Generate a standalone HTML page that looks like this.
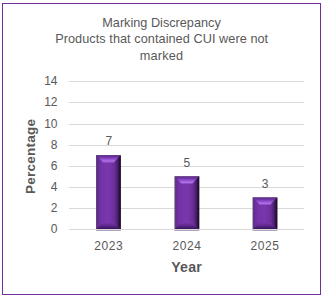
<!DOCTYPE html>
<html><head><meta charset="utf-8"><style>
html,body{margin:0;padding:0;background:#fff;width:323px;height:296px;overflow:hidden}
svg{display:block}
.t12{font-family:"Liberation Sans",sans-serif;font-size:12px;fill:#595959}
.xl{letter-spacing:0.6px}
.tt{font-family:"Liberation Sans",sans-serif;font-size:12.7px;fill:#595959}
.tb{font-family:"Liberation Sans",sans-serif;font-size:14.2px;font-weight:bold;fill:#595959}
</style></head><body>
<svg width="323" height="296" viewBox="0 0 323 296">
<defs>
<linearGradient id="body" x1="0" y1="0" x2="1" y2="0"><stop offset="0.0" stop-color="#5e4874"/><stop offset="0.03" stop-color="#5e4476"/><stop offset="0.06" stop-color="#5e2a8e"/><stop offset="0.1" stop-color="#6a2e9c"/><stop offset="0.22" stop-color="#7434a8"/><stop offset="0.5" stop-color="#7838ac"/><stop offset="0.6" stop-color="#7434a6"/><stop offset="0.74" stop-color="#6a2e98"/><stop offset="0.86" stop-color="#4c2070"/><stop offset="0.94" stop-color="#2a1040"/><stop offset="1.0" stop-color="#180820"/></linearGradient>
<linearGradient id="topbev" x1="0" y1="0" x2="0" y2="1"><stop offset="0" stop-color="#6a2ca0"/><stop offset="0.3" stop-color="#7232aa"/><stop offset="0.7" stop-color="#9c5cd8"/><stop offset="1" stop-color="#b474ee"/></linearGradient>
<linearGradient id="botbev" x1="0" y1="0" x2="0" y2="1"><stop offset="0" stop-color="#7838aa"/><stop offset="0.45" stop-color="#62288f"/><stop offset="1" stop-color="#361459"/></linearGradient>
<linearGradient id="glow" x1="0" y1="0" x2="0" y2="1"><stop offset="0" stop-color="#a868e2" stop-opacity="0.8"/><stop offset="1" stop-color="#a868e2" stop-opacity="0"/></linearGradient>
</defs>
<rect x="2.5" y="3.5" width="318" height="291" fill="none" stroke="#7030A0" stroke-width="1"/>
<rect x="69" y="229" width="235" height="1" fill="#d9d9d9"/>
<rect x="69" y="208" width="235" height="1" fill="#d9d9d9"/>
<rect x="69" y="187" width="235" height="1" fill="#d9d9d9"/>
<rect x="69" y="166" width="235" height="1" fill="#d9d9d9"/>
<rect x="69" y="145" width="235" height="1" fill="#d9d9d9"/>
<rect x="69" y="124" width="235" height="1" fill="#d9d9d9"/>
<rect x="69" y="102" width="235" height="1" fill="#d9d9d9"/>
<rect x="69" y="81" width="235" height="1" fill="#d9d9d9"/>
<text x="57.5" y="233.20" text-anchor="end" class="t12">0</text>
<text x="57.5" y="212.20" text-anchor="end" class="t12">2</text>
<text x="57.5" y="191.20" text-anchor="end" class="t12">4</text>
<text x="57.5" y="170.20" text-anchor="end" class="t12">6</text>
<text x="57.5" y="149.20" text-anchor="end" class="t12">8</text>
<text x="57.5" y="128.20" text-anchor="end" class="t12">10</text>
<text x="57.5" y="106.20" text-anchor="end" class="t12">12</text>
<text x="57.5" y="85.20" text-anchor="end" class="t12">14</text>
<rect x="96.0" y="155.25" width="24.9" height="73.75" fill="url(#body)"/>
<rect x="102.5" y="161.75" width="11.899999999999999" height="1.5" fill="url(#glow)"/>
<polygon points="96.5,155.25 120.4,155.25 114.4,161.75 102.5,161.75" fill="url(#topbev)"/>
<rect x="96.0" y="155.25" width="24.9" height="1" fill="#50406a" fill-opacity="0.7"/>
<polygon points="96.5,229.00 102.5,222.50 114.4,222.50 120.4,229.00" fill="url(#botbev)"/>
<rect x="96.0" y="230" width="24.9" height="1" fill="#b0a4bc"/>
<text x="108.8" y="144.9" text-anchor="middle" class="t12">7</text>
<text x="108.8" y="249.9" text-anchor="middle" class="t12 xl">2023</text>
<rect x="174.45" y="176.39" width="24.9" height="52.61" fill="url(#body)"/>
<rect x="180.95" y="182.89" width="11.899999999999999" height="1.5" fill="url(#glow)"/>
<polygon points="174.95,176.39 198.85,176.39 192.85,182.89 180.95,182.89" fill="url(#topbev)"/>
<rect x="174.45" y="176.39" width="24.9" height="1" fill="#50406a" fill-opacity="0.7"/>
<polygon points="174.95,229.00 180.95,222.50 192.85,222.50 198.85,229.00" fill="url(#botbev)"/>
<rect x="174.45" y="230" width="24.9" height="1" fill="#b0a4bc"/>
<text x="186.9" y="166.6" text-anchor="middle" class="t12">5</text>
<text x="187.0" y="249.9" text-anchor="middle" class="t12 xl">2024</text>
<rect x="252.55" y="197.54" width="24.9" height="31.46" fill="url(#body)"/>
<rect x="259.05" y="204.04" width="11.899999999999999" height="1.5" fill="url(#glow)"/>
<polygon points="253.05,197.54 276.95,197.54 270.95,204.04 259.05,204.04" fill="url(#topbev)"/>
<rect x="252.55" y="197.54" width="24.9" height="1" fill="#50406a" fill-opacity="0.7"/>
<polygon points="253.05,229.00 259.05,222.50 270.95,222.50 276.95,229.00" fill="url(#botbev)"/>
<rect x="252.55" y="230" width="24.9" height="1" fill="#b0a4bc"/>
<text x="265.0" y="187.8" text-anchor="middle" class="t12">3</text>
<text x="265.0" y="249.9" text-anchor="middle" class="t12 xl">2025</text>
<text x="161.5" y="27.1" text-anchor="middle" class="tt">Marking Discrepancy</text>
<text x="161.7" y="43.3" text-anchor="middle" class="tt" letter-spacing="0.06">Products that contained CUI were not</text>
<text x="161.5" y="60.2" text-anchor="middle" class="tt" letter-spacing="0.2">marked</text>
<text x="186.6" y="271.7" text-anchor="middle" class="tb" letter-spacing="0.2">Year</text>
<text transform="translate(34.7,156.3) rotate(-90)" x="0" y="0" text-anchor="middle" class="tb" style="font-size:13.6px" letter-spacing="0.2">Percentage</text>
</svg>
</body></html>
